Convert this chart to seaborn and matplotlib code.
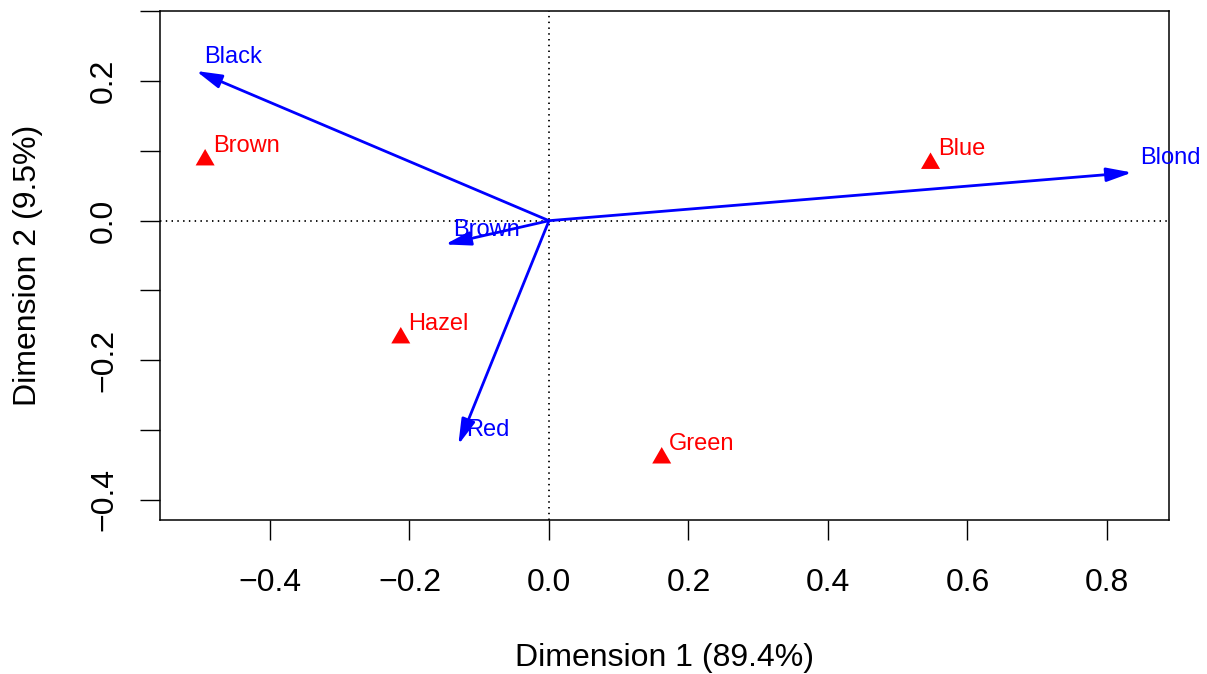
import matplotlib
matplotlib.use("Agg")
import matplotlib.pyplot as plt
import seaborn as sns
import pandas as pd

# ---- data ----
eye_labels = ["Brown", "Blue", "Hazel", "Green"]
eye_dim1 = [-0.493, 0.547, -0.2125, 0.1616]
eye_dim2 = [0.087, 0.082, -0.168, -0.340]

hair_labels = ["Black", "Brown", "Red", "Blond"]
hair_dim1 = [-0.506, -0.149, -0.130, 0.836]
hair_dim2 = [0.2145, -0.034, -0.321, 0.069]

x_ticks = [-0.4, -0.2, 0.0, 0.2, 0.4, 0.6, 0.8]
x_tick_labels = ["\u22120.4", "\u22120.2", "0.0", "0.2", "0.4", "0.6", "0.8"]
y_ticks = [-0.4, -0.3, -0.2, -0.1, 0.0, 0.1, 0.2, 0.3]
y_tick_labels = ["\u22120.4", "", "\u22120.2", "", "0.0", "", "0.2", ""]
x_title = "Dimension 1 (89.4%)"
y_title = "Dimension 2 (9.5%)"

# ---- style ----
sns.set_theme(style="white")
plt.rcParams["font.family"] = ["Liberation Sans", "DejaVu Sans"]

W, H = 1207, 674
fig = plt.figure(figsize=(W / 100, H / 100), dpi=100)
fig.patch.set_facecolor("white")
ax = fig.add_axes([160 / W, 1 - 520 / H, (1169 - 160) / W, (520 - 11) / H])
ax.set_facecolor("white")

ax.set_xlim(-0.5577, 0.8889)
ax.set_ylim(-0.4288, 0.3004)

# reference lines
ax.axhline(0, color="black", lw=1.3, ls=(0, (0.8, 2.4)), zorder=1)
ax.axvline(0, color="black", lw=1.3, ls=(0, (0.8, 2.4)), zorder=1)

# eye colour points
eye_df = pd.DataFrame({"dim1": eye_dim1, "dim2": eye_dim2, "label": eye_labels})
tri = [(0, 1), (-0.866, -0.5), (0.866, -0.5)]
sns.scatterplot(data=eye_df, x="dim1", y="dim2", marker=tri, s=250,
                color="red", edgecolor="none", linewidth=0, ax=ax,
                legend=False, zorder=3)
for lab, x, y in zip(eye_labels, eye_dim1, eye_dim2):
    ax.annotate(lab, (x, y), xytext=(5.5, 6), textcoords="offset points",
                color="red", fontsize=17, ha="left", va="baseline", zorder=4)

# hair colour arrows
for lab, x, y in zip(hair_labels, hair_dim1, hair_dim2):
    ax.annotate("", xy=(x, y), xytext=(0, 0),
                arrowprops=dict(arrowstyle="-|>,head_length=1.1,head_width=0.3",
                                mutation_scale=14, color="blue", lw=2.0,
                                shrinkA=0, shrinkB=0),
                zorder=2)
    ax.annotate(lab, (x, y), xytext=(5.5, 6), textcoords="offset points",
                color="blue", fontsize=17, ha="left", va="baseline", zorder=4)

# axes / ticks
ax.set_xticks(x_ticks)
ax.set_xticklabels(x_tick_labels)
ax.set_yticks(y_ticks)
ax.set_yticklabels(y_tick_labels, rotation=90, va="center")
ax.tick_params(axis="x", bottom=True, direction="out", length=14.4, width=1,
               color="black", labelsize=23, pad=20, labelcolor="black")
ax.tick_params(axis="y", left=True, direction="out", length=14.4, width=1,
               color="black", labelsize=23, pad=15, labelcolor="black")
for sp in ax.spines.values():
    sp.set_visible(True)
    sp.set_color("black")
    sp.set_linewidth(1.1)

ax.set_xlabel(x_title, fontsize=23, color="black")
ax.set_ylabel(y_title, fontsize=23, color="black")
ax.xaxis.set_label_coords(0.5, (520 - 658) / 509)
ax.xaxis.label.set_va("center")
ax.yaxis.set_label_coords((28 - 160) / 1009, 0.5)
ax.yaxis.label.set_va("center")

fig.savefig("out.png", dpi=100, facecolor="white")
